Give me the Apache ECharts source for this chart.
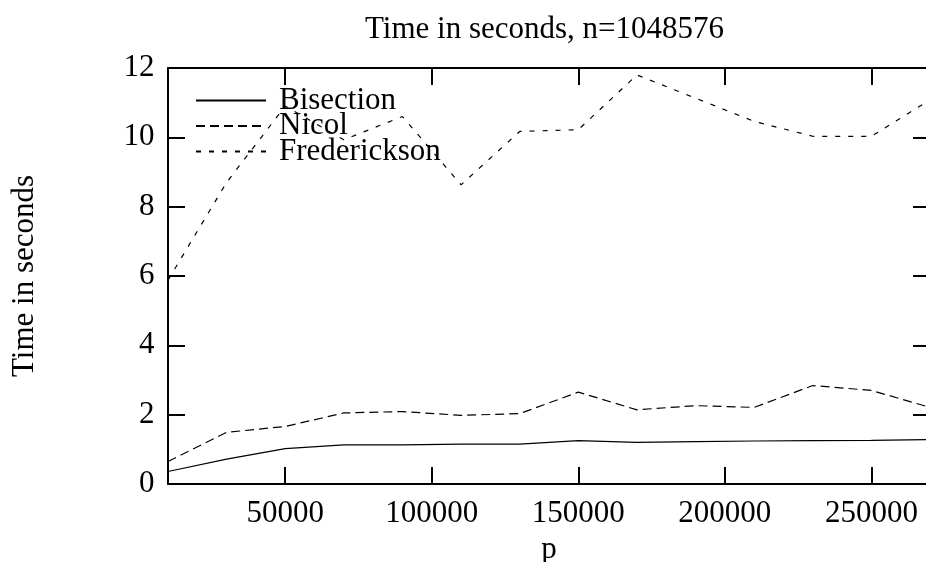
<!DOCTYPE html>
<html>
<head>
<meta charset="utf-8">
<script src="https://cdn.jsdelivr.net/npm/echarts@6/dist/echarts.min.js"></script>
<style>html,body{margin:0;padding:0;background:#fff}#c{width:926px;height:562px}</style>
</head>
<body>
<div id="c"></div>
<script>
var pValues = [10000, 30000, 50000, 70000, 90000, 110000, 130000, 150000, 170000, 190000, 210000, 230000, 250000, 270000];
var bisection = [0.36, 0.72, 1.02, 1.13, 1.13, 1.15, 1.15, 1.25, 1.20, 1.22, 1.24, 1.25, 1.26, 1.28];
var nicol = [0.65, 1.49, 1.66, 2.05, 2.09, 1.98, 2.03, 2.65, 2.14, 2.26, 2.21, 2.84, 2.70, 2.21];
var frederickson = [5.88, 8.7, 10.9, 9.93, 10.6, 8.63, 10.17, 10.22, 11.8, 11.13, 10.46, 10.03, 10.03, 11.08];
var xTicks = [50000, 100000, 150000, 200000, 250000];
var titleText = 'Time in seconds, n=1048576';
var xName = 'p';
var yName = 'Time in seconds';

var FONT = 'Liberation Serif';
var FS = 31;
function pairs(ys) { return pValues.map(function (x, i) { return [x, ys[i]]; }); }
function plain(v) { return String(v); }

var axisLine = { show: true, onZero: false, lineStyle: { color: '#000', width: 2 } };
var axisTick = { show: true, inside: true, length: 17, lineStyle: { color: '#000', width: 2 } };

var chart = echarts.init(document.getElementById('c'), null, { renderer: 'canvas' });
chart.setOption({
  animation: false,
  backgroundColor: '#fff',
  title: {
    text: titleText, left: 360, top: 9,
    textStyle: { fontFamily: FONT, fontSize: FS, fontWeight: 'normal', color: '#000' }
  },
  legend: {
    orient: 'vertical', left: 190, top: 80,
    itemWidth: 70, itemHeight: 10, itemGap: -5.5,
    itemStyle: { opacity: 0 },
    textStyle: { fontFamily: FONT, fontSize: FS, color: '#000', padding: [0, 0, 0, 8] },
    data: ['Bisection', 'Nicol', 'Frederickson']
  },
  grid: { left: 168, top: 68, right: -4, bottom: 78, containLabel: false, outerBoundsMode: 'none' },
  xAxis: [{
    type: 'value', position: 'bottom', min: 10000, max: 270000,
    name: xName, nameLocation: 'middle', nameGap: 47,
    nameTextStyle: { fontFamily: FONT, fontSize: FS, color: '#000' },
    axisLine: axisLine,
    axisTick: Object.assign({ customValues: xTicks }, axisTick),
    axisLabel: { customValues: xTicks, formatter: plain, margin: 14, fontFamily: FONT, fontSize: FS, color: '#000' },
    splitLine: { show: false }
  }, {
    type: 'value', position: 'top', min: 10000, max: 270000,
    axisLine: axisLine,
    axisTick: Object.assign({ customValues: xTicks }, axisTick),
    axisLabel: { show: false },
    splitLine: { show: false }
  }],
  yAxis: [{
    type: 'value', position: 'left', min: 0, max: 12, interval: 2,
    name: yName, nameLocation: 'middle', nameGap: 128, nameRotate: 90,
    nameTextStyle: { fontFamily: FONT, fontSize: FS, color: '#000' },
    axisLine: axisLine, axisTick: axisTick,
    axisLabel: { margin: 13.5, formatter: plain, fontFamily: FONT, fontSize: FS, color: '#000' },
    splitLine: { show: false }
  }, {
    type: 'value', position: 'right', min: 0, max: 12, interval: 2,
    axisLine: axisLine, axisTick: axisTick,
    axisLabel: { show: false },
    splitLine: { show: false }
  }],
  series: [{
    name: 'Bisection', type: 'line', data: pairs(bisection), symbol: 'none',
    lineStyle: { color: '#000', width: 1.2, type: 'solid' }, itemStyle: { color: '#000' }
  }, {
    name: 'Nicol', type: 'line', data: pairs(nicol), symbol: 'none',
    lineStyle: { color: '#000', width: 1.2, type: [9, 5] }, itemStyle: { color: '#000' }
  }, {
    name: 'Frederickson', type: 'line', data: pairs(frederickson), symbol: 'none',
    lineStyle: { color: '#000', width: 1.2, type: [5, 8] }, itemStyle: { color: '#000' }
  }]
});
</script>
</body>
</html>
